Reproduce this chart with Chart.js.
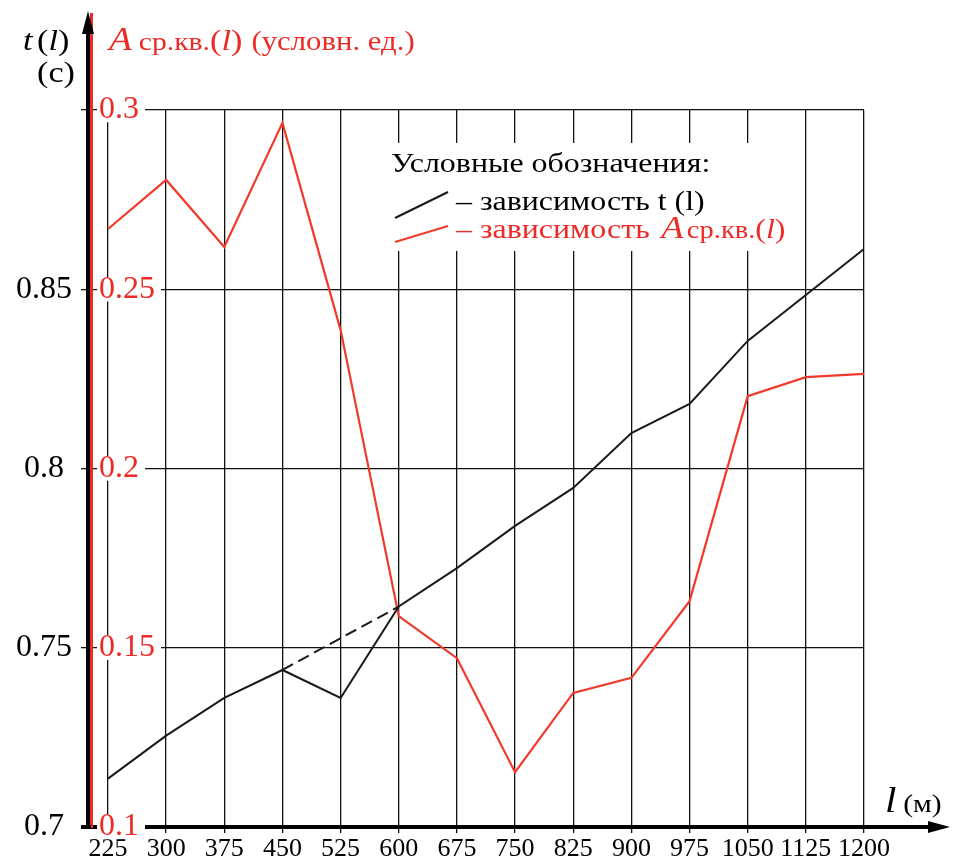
<!DOCTYPE html>
<html lang="ru">
<head>
<meta charset="utf-8">
<title>t(l) и A ср.кв.(l)</title>
<script src="https://cdn.jsdelivr.net/npm/chart.js@4.4.1/dist/chart.umd.min.js"></script>
<style>
  html, body { margin: 0; padding: 0; background: #fff; }
  canvas { display: block; }
</style>
</head>
<body>
<canvas id="chart" width="953" height="863"></canvas>
<script>
// длина участка l, м
const lengths = [225, 300, 375, 450, 525, 600, 675, 750, 825, 900, 975, 1050, 1125, 1200];
// время t(l), с
const tValues = [0.7135, 0.7255, 0.736, 0.7438, 0.736, 0.7615, 0.7722, 0.784, 0.7946, 0.8099, 0.818, 0.8356, 0.8484, 0.8612];
// A ср.кв.(l), условн. ед.
const aValues = [0.2668, 0.2805, 0.2618, 0.2964, 0.2386, 0.1588, 0.1471, 0.1153, 0.1374, 0.1416, 0.163, 0.2202, 0.2255, 0.2264];
// штриховая связка t(l) от 450 до 600 м
const dashLengths = [450, 600];
const dashValues = [tValues[3], tValues[5]];

const tTicks = [0.7, 0.75, 0.8, 0.85, 0.9];
const aTicks = [0.1, 0.15, 0.2, 0.25, 0.3];

const RED = '#ec2a26';
const RED_LINE = '#f03a2c';
const SERIF = '"Liberation Serif", "Times New Roman", serif';
const SX = 1.14;

const toPoints = (xs, ys) => xs.map((x, i) => ({ x: x, y: ys[i] }));

// текст из нескольких кусков с разными шрифтами в одну строку
function drawRuns(ctx, x, y, parts) {
    ctx.save();
    ctx.translate(x, y);
    ctx.scale(SX, 1);
    ctx.textAlign = 'left';
    ctx.textBaseline = 'alphabetic';
    let cx = 0;
    for (const p of parts) {
        ctx.font = p.font;
        ctx.fillStyle = p.color;
        ctx.fillText(p.text, cx, 0);
        cx += ctx.measureText(p.text).width + (p.gap || 0);
    }
    ctx.restore();
}

function line(ctx, x1, y1, x2, y2, color, width) {
    ctx.beginPath();
    ctx.moveTo(x1, y1);
    ctx.lineTo(x2, y2);
    ctx.strokeStyle = color;
    ctx.lineWidth = width;
    ctx.stroke();
}

function triangle(ctx, pts, color) {
    ctx.beginPath();
    ctx.moveTo(pts[0], pts[1]);
    ctx.lineTo(pts[2], pts[3]);
    ctx.lineTo(pts[4], pts[5]);
    ctx.closePath();
    ctx.fillStyle = color;
    ctx.fill();
}

// стрелки осей, подписи осей и условные обозначения
const decor = {
    id: 'decor',
    afterDatasetsDraw(chart) {
        const ctx = chart.ctx;
        ctx.save();
        ctx.fillStyle = '#fff';
        ctx.fillRect(384, 143, 418, 108);

        drawRuns(ctx, 391, 172, [{ text: 'Условные обозначения:', font: '28px ' + SERIF, color: '#000' }]);

        line(ctx, 395, 218, 448, 192, '#1a1a1a', 2);
        drawRuns(ctx, 456, 210, [{ text: '– зависимость t (l)', font: '28px ' + SERIF, color: '#000' }]);

        line(ctx, 395, 242, 448, 226, RED_LINE, 2);
        drawRuns(ctx, 456, 238, [
            { text: '– зависимость ', font: '28px ' + SERIF, color: RED, gap: 3 },
            { text: 'A', font: 'italic 32px ' + SERIF, color: RED, gap: 3 },
            { text: 'ср.кв.', font: '25px ' + SERIF, color: RED },
            { text: '(', font: '28px ' + SERIF, color: RED },
            { text: 'l', font: 'italic 28px ' + SERIF, color: RED },
            { text: ')', font: '28px ' + SERIF, color: RED }
        ]);
        ctx.restore();
    },
    afterDraw(chart) {
        const ctx = chart.ctx;
        const yT = chart.scales.yT;
        const yA = chart.scales.yA;
        const xs = chart.scales.x;
        const top = chart.chartArea.top;
        const axisY = xs.top;
        ctx.save();

        // вертикальные оси уходят вверх до стрелки
        line(ctx, yA.right + 0.5, top, yA.right + 0.5, 13, RED, 3);
        line(ctx, yT.right, top + 1, yT.right, 30, '#000', 4);
        triangle(ctx, [yT.right, 11, yT.right - 6, 34, yT.right + 6, 34], '#000');

        // горизонтальная ось тянется вправо до стрелки
        line(ctx, 81, axisY, xs.left, axisY, '#000', 4);
        line(ctx, xs.right, axisY, 932, axisY, '#000', 4);
        triangle(ctx, [950, axisY, 928, axisY - 6, 928, axisY + 6], '#000');

        // подписи осей
        drawRuns(ctx, 23, 50, [
            { text: 't', font: 'italic 30px ' + SERIF, color: '#000', gap: 4 },
            { text: '(', font: '30px ' + SERIF, color: '#000' },
            { text: 'l', font: 'italic 30px ' + SERIF, color: '#000' },
            { text: ')', font: '30px ' + SERIF, color: '#000' }
        ]);
        drawRuns(ctx, 37, 82, [{ text: '(с)', font: '30px ' + SERIF, color: '#000' }]);

        drawRuns(ctx, 109, 50, [
            { text: 'A', font: 'italic 33px ' + SERIF, color: RED, gap: 6 },
            { text: 'ср.кв.', font: '26px ' + SERIF, color: RED },
            { text: '(', font: '30px ' + SERIF, color: RED },
            { text: 'l', font: 'italic 30px ' + SERIF, color: RED },
            { text: ')', font: '30px ' + SERIF, color: RED, gap: 8 },
            { text: '(условн. ед.)', font: '27px ' + SERIF, color: RED }
        ]);

        drawRuns(ctx, 885, 812, [
            { text: 'l', font: 'italic 36px ' + SERIF, color: '#000', gap: 6 },
            { text: '(м)', font: '26px ' + SERIF, color: '#000' }
        ]);
        ctx.restore();
    }
};

new Chart(document.getElementById('chart'), {
    type: 'line',
    data: {
        datasets: [
            {
                label: 't(l)',
                data: toPoints(lengths, tValues),
                yAxisID: 'yT',
                borderColor: '#1a1a1a',
                borderWidth: 2
            },
            {
                label: 't(l), штрих',
                data: toPoints(dashLengths, dashValues),
                yAxisID: 'yT',
                borderColor: '#1a1a1a',
                borderWidth: 2,
                borderDash: [12, 6]
            },
            {
                label: 'A ср.кв.(l)',
                data: toPoints(lengths, aValues),
                yAxisID: 'yA',
                borderColor: RED_LINE,
                borderWidth: 2.2
            }
        ]
    },
    options: {
        responsive: false,
        animation: false,
        devicePixelRatio: 1,
        layout: { padding: { top: 110, right: 89, left: 0, bottom: 0 } },
        elements: {
            point: { radius: 0, hoverRadius: 0 },
            line: { tension: 0 }
        },
        plugins: {
            legend: { display: false },
            tooltip: { enabled: false }
        },
        scales: {
            x: {
                type: 'linear',
                min: 203.1,
                max: 1200,
                afterBuildTicks: (s) => { s.ticks = lengths.map((v) => ({ value: v })); },
                afterFit: (s) => { s.height = 36; },
                grid: { color: '#111', lineWidth: 1.3, tickLength: 6 },
                border: { color: '#000', width: 4 },
                ticks: {
                    color: '#000',
                    font: { family: SERIF, size: 26 },
                    padding: 1,
                    autoSkip: false,
                    maxRotation: 0,
                    callback: (v) => String(v)
                }
            },
            yT: {
                type: 'linear',
                position: 'left',
                weight: 1,
                min: 0.7,
                max: 0.9,
                afterBuildTicks: (s) => { s.ticks = tTicks.map((v) => ({ value: v })); },
                afterFit: (s) => { s.width = 88; },
                grid: { color: '#111', lineWidth: 1.3, tickLength: 7 },
                border: { color: '#000', width: 4 },
                ticks: {
                    color: '#000',
                    font: { family: SERIF, size: 32 },
                    padding: 9,
                    crossAlign: 'center',
                    callback: (v) => (v === 0.9 ? '' : String(v))
                }
            },
            yA: {
                type: 'linear',
                position: 'left',
                weight: 0,
                min: 0.1,
                max: 0.3,
                afterBuildTicks: (s) => { s.ticks = aTicks.map((v) => ({ value: v })); },
                afterFit: (s) => { s.width = 3; },
                grid: { display: false, drawTicks: false },
                border: { color: RED, width: 3 },
                ticks: {
                    mirror: true,
                    color: RED,
                    font: { family: SERIF, size: 32 },
                    padding: 8,
                    showLabelBackdrop: true,
                    backdropColor: '#fff',
                    backdropPadding: { top: -7, bottom: -7, left: 2, right: 6 },
                    callback: (v) => String(v)
                }
            }
        }
    },
    plugins: [decor]
});
</script>
</body>
</html>
